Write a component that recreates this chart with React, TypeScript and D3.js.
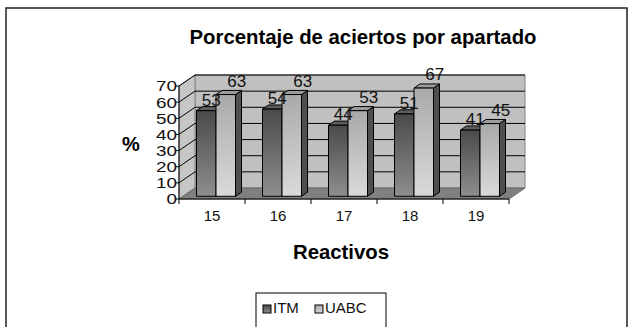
import React from "react";
import * as d3 from "d3";

// Reactivos (question items) and the percentage of correct answers per school
const categories = ["15", "16", "17", "18", "19"];
const series = ["ITM", "UABC"];
const itmValues = [53, 54, 44, 51, 41];
const uabcValues = [63, 63, 53, 67, 45];
const yTicks = [0, 10, 20, 30, 40, 50, 60, 70];

const W = 634;
const H = 327;

// Oblique projection of the 3-D box: full depth shift
const DEPTH_X = 16;
const DEPTH_Y = -11;
// Bars occupy this slice of the depth
const BAR_Z0 = 0.25;
const BAR_Z1 = 0.625;

const x = d3.scaleBand<string>().domain(categories).range([179, 509]).paddingInner(0).paddingOuter(0);
const inner = d3.scaleBand<string>().domain(series).range([13.5, 52.5]).padding(0);
const y = d3.scaleLinear().domain([0, 70]).range([199, 86]);

const seriesStyle: Record<string, { grad: string; side: string; top: string; labelDx: number; labelDy: number }> = {
  ITM: { grad: "gItm", side: "#3a3a3a", top: "#5e5e5e", labelDx: 5, labelDy: -5 },
  UABC: { grad: "gUabc", side: "#4f4f4f", top: "#9c9c9c", labelDx: 11, labelDy: -8 },
};

const pt = (px: number, py: number, z: number) => [px + DEPTH_X * z, py + DEPTH_Y * z];
const poly = (pts: number[][]) => pts.map((p) => p.join(",")).join(" ");

export default function App() {
  const y0 = y(0);
  const y70 = y(70);
  const xl = x.range()[0];
  const xr = x.range()[1];

  const bars: { cat: string; s: string; v: number }[] = [];
  categories.forEach((c, i) => {
    bars.push({ cat: c, s: "ITM", v: itmValues[i] });
    bars.push({ cat: c, s: "UABC", v: uabcValues[i] });
  });

  return (
    <svg
      width={W}
      height={H}
      style={{ position: "absolute", left: 0, top: 0, background: "#fff" }}
      fontFamily="'Liberation Sans', Arial, sans-serif"
    >
      <defs>
        <linearGradient id="gItm" x1="0" y1="0" x2="0" y2="1">
          <stop offset="0" stopColor="#4a4a4a" />
          <stop offset="1" stopColor="#8e8e8e" />
        </linearGradient>
        <linearGradient id="gUabc" x1="0" y1="0" x2="0" y2="1">
          <stop offset="0" stopColor="#a9a9a9" />
          <stop offset="1" stopColor="#dadada" />
        </linearGradient>
      </defs>

      {/* chart frame */}
      <path d={`M6,${H + 2} L6,8 L627,8 L627,${H + 2}`} fill="none" stroke="#222" strokeWidth={1.5} />

      <text x={363} y={44} textAnchor="middle" fontWeight="bold" fontSize={20} textLength={347} lengthAdjust="spacingAndGlyphs">
        Porcentaje de aciertos por apartado
      </text>

      {/* back wall */}
      <polygon
        points={poly([pt(xl, y0, 1), pt(xr, y0, 1), pt(xr, y70, 1), pt(xl, y70, 1)])}
        fill="#c0c0c0"
        stroke="#808080"
      />
      {/* side wall */}
      <polygon
        points={poly([pt(xl, y0, 0), pt(xl, y0, 1), pt(xl, y70, 1), pt(xl, y70, 0)])}
        fill="#c6c6c6"
        stroke="#808080"
      />
      {/* floor */}
      <polygon
        points={poly([pt(xl, y0, 0), pt(xr, y0, 0), pt(xr, y0, 1), pt(xl, y0, 1)])}
        fill="#808080"
        stroke="#6a6a6a"
      />

      {/* gridlines on the back and side walls */}
      {yTicks.filter((t) => t > 0).map((t) => {
        const a = pt(xl, y(t), 0);
        const b = pt(xl, y(t), 1);
        const c = pt(xr, y(t), 1);
        return <polyline key={t} points={poly([a, b, c])} fill="none" stroke="#000" strokeWidth={1} />;
      })}

      {/* bars */}
      {bars.map((b) => {
        const st = seriesStyle[b.s];
        const fx0 = (x(b.cat) as number) + (inner(b.s) as number);
        const fx1 = fx0 + inner.bandwidth();
        const top = y(b.v);
        const bot = y(0);
        const f = [pt(fx0, bot, BAR_Z0), pt(fx1, bot, BAR_Z0), pt(fx1, top, BAR_Z0), pt(fx0, top, BAR_Z0)];
        const side = [pt(fx1, bot, BAR_Z0), pt(fx1, bot, BAR_Z1), pt(fx1, top, BAR_Z1), pt(fx1, top, BAR_Z0)];
        const cap = [pt(fx0, top, BAR_Z0), pt(fx1, top, BAR_Z0), pt(fx1, top, BAR_Z1), pt(fx0, top, BAR_Z1)];
        return (
          <g key={b.cat + b.s} stroke="#000" strokeWidth={1} strokeLinejoin="round">
            <polygon points={poly(side)} fill={st.side} />
            <polygon points={poly(cap)} fill={st.top} />
            <polygon points={poly(f)} fill={`url(#${st.grad})`} />
          </g>
        );
      })}

      {/* value labels */}
      {bars.map((b) => {
        const st = seriesStyle[b.s];
        const fx0 = (x(b.cat) as number) + (inner(b.s) as number);
        const [cx, cy] = pt(fx0 + inner.bandwidth() / 2, y(b.v), BAR_Z0);
        return (
          <text key={"l" + b.cat + b.s} x={cx + st.labelDx} y={cy + st.labelDy} textAnchor="middle" fontSize={17} fill="#111">
            {b.v}
          </text>
        );
      })}

      {/* value axis */}
      <line x1={xl} y1={y0} x2={xl} y2={y70} stroke="#000" />
      {yTicks.map((t) => {
        const label = String(t);
        return (
          <g key={"yt" + t}>
            <line x1={xl - 3} x2={xl} y1={y(t)} y2={y(t)} stroke="#000" />
            <text
              x={xl - 2}
              y={y(t)}
              dy="0.36em"
              textAnchor="end"
              fontSize={15}
              fill="#111"
              textLength={label.length * 10.5}
              lengthAdjust="spacingAndGlyphs"
            >
              {label}
            </text>
          </g>
        );
      })}
      <text x={131} y={151} textAnchor="middle" fontWeight="bold" fontSize={20}>
        %
      </text>

      {/* category axis */}
      <line x1={xl} y1={y0} x2={xr} y2={y0} stroke="#000" />
      {[...categories.map((c) => x(c) as number), xr].map((tx, i) => (
        <line key={"xt" + i} x1={tx} x2={tx} y1={y0} y2={y0 + 5} stroke="#000" />
      ))}
      {categories.map((c) => (
        <text key={"xl" + c} x={(x(c) as number) + x.bandwidth() / 2} y={221} textAnchor="middle" fontSize={15} fill="#111">
          {c}
        </text>
      ))}
      <text x={341} y={259} textAnchor="middle" fontWeight="bold" fontSize={21} textLength={96} lengthAdjust="spacingAndGlyphs">
        Reactivos
      </text>

      {/* legend */}
      <rect x={256} y={293} width={130} height={50} fill="#fff" stroke="#000" />
      {series.map((s, i) => {
        const lx = i === 0 ? 263 : 315;
        return (
          <g key={"lg" + s}>
            <rect x={lx} y={305} width={8} height={8} fill={`url(#${seriesStyle[s].grad})`} stroke="#000" />
            <text x={lx + 10} y={313} fontSize={15} fill="#111">
              {s}
            </text>
          </g>
        );
      })}
    </svg>
  );
}
